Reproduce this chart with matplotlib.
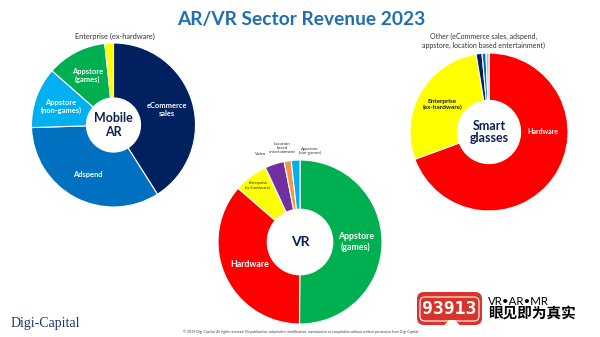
import numpy as np
import matplotlib
matplotlib.use("Agg")
import matplotlib.pyplot as plt
from matplotlib.patches import FancyBboxPatch, Polygon

W, H = 600, 337

# ── data (share of each sector's 2023 revenue, %) ─────────────────────────────
ar_labels = ["eCommerce\nsales", "Adspend", "Appstore\n(non-games)", "Appstore\n(games)", "Enterprise (ex-hardware)"]
ar_values = [41.0, 33.5, 12.0, 11.8, 1.7]
ar_colors = ["#002060", "#0070C0", "#00B0F0", "#00B050", "#FFFF00"]

vr_labels = ["Appstore\n(games)", "Hardware", "Enterprise\n(ex-hardware)", "Video",
             "Location\nbased\nentertainment", "Appstore\n(non-games)"]
vr_values = [50.0, 36.2, 6.7, 3.8, 1.4, 1.7]
vr_colors = ["#00B050", "#FF0000", "#FFFF00", "#7030A0", "#F79646", "#00B0F0"]

sg_labels = ["Hardware", "Enterprise\n(ex-hardware)", "eCommerce sales", "Adspend", "Appstore"]
sg_values = [68.9, 27.8, 1.2, 0.8, 0.6]
sg_colors = ["#FF0000", "#FFFF00", "#002060", "#0070C0", "#9DC3E6"]

SANS = ["Lato", "DejaVu Sans"]
NAVY = "#0D1F4F"


def Y(py):
    return H - py


def donut(ax, values, colors, cx, cy, r, hole):
    wedges, _ = ax.pie(values, colors=colors, startangle=90, counterclock=False,
                       radius=r, center=(cx, Y(cy)),
                       wedgeprops=dict(width=r * (1 - hole), edgecolor="white", linewidth=0.8))
    return wedges


def inner_label(ax, w, cx, cy, r, text, size, color="white", frac=0.68, ang=None):
    a = np.deg2rad((w.theta1 + w.theta2) / 2 if ang is None else ang)
    ax.text(cx + frac * r * np.cos(a), Y(cy) + frac * r * np.sin(a), text,
            ha="center", va="center", fontsize=size, fontweight="bold",
            color=color, family=SANS, linespacing=1.15)


fig = plt.figure(figsize=(W / 100, H / 100), dpi=100)
ax = fig.add_axes([0, 0, 1, 1])

# ── Mobile AR ────────────────────────────────────────────────────────────────
cx, cy, r = 113.5, 125, 82
ws = donut(ax, ar_values, ar_colors, cx, cy, r, 0.33)
for w, t in zip(ws[:4], ar_labels[:4]):
    inner_label(ax, w, cx, cy, r, t, 5.4)
ax.text(cx, Y(cy), "Mobile\nAR", ha="center", va="center", fontsize=9,
        fontweight="bold", color=NAVY, family=SANS, linespacing=1.1)
ax.text(115, Y(36), ar_labels[4], ha="center", va="center", fontsize=5.3,
        color="#333333", family=SANS)

# ── VR ───────────────────────────────────────────────────────────────────────
cx, cy, r = 300, 242, 82
ws = donut(ax, vr_values, vr_colors, cx, cy, r, 0.40)
inner_label(ax, ws[0], cx, cy, r, vr_labels[0], 6.3)
inner_label(ax, ws[1], cx, cy, r, vr_labels[1], 6.3)
ax.text(258, Y(185), vr_labels[2], ha="center", va="center", fontsize=3.2,
        color="#333333", family=SANS, linespacing=1.1)
ax.text(261, Y(154), vr_labels[3], ha="center", va="center", fontsize=3.2,
        color="#333333", family=SANS)
ax.text(282, Y(148), vr_labels[4], ha="center", va="center", fontsize=3.2,
        color="#333333", family=SANS, linespacing=1.1)
ax.text(310, Y(151), vr_labels[5], ha="center", va="center", fontsize=3.2,
        color="#333333", family=SANS, linespacing=1.1)
ax.text(cx, Y(cy), "VR", ha="center", va="center", fontsize=10,
        fontweight="bold", color=NAVY, family=SANS)

# ── Smart glasses ────────────────────────────────────────────────────────────
cx, cy, r = 489, 132, 79
ws = donut(ax, sg_values, sg_colors, cx, cy, r, 0.40)
inner_label(ax, ws[0], cx, cy, r, sg_labels[0], 5.0, ang=0)
inner_label(ax, ws[1], cx, cy, r, sg_labels[1], 4.6, color="#1A1A1A")
ax.text(cx, Y(cy), "Smart\nglasses", ha="center", va="center", fontsize=9,
        fontweight="bold", color=NAVY, family=SANS, linespacing=1.1)
ax.text(484, Y(41), "Other (eCommerce sales, adspend,\nappstore, location based entertainment)",
        ha="center", va="center", fontsize=5.0, color="#333333", family=SANS,
        linespacing=1.2)

# ── title and footer ─────────────────────────────────────────────────────────
ax.text(301, Y(19), "AR/VR Sector Revenue 2023", ha="center", va="center",
        fontsize=13.8, fontweight="bold", color="#1F6FB2", family=SANS)
ax.text(11, Y(323), "Digi-Capital", ha="left", va="center", fontsize=10,
        color="#1F3864", family=["Liberation Serif", "DejaVu Serif"])
ax.text(301, Y(331.5), "© 2019 Digi-Capital. All rights reserved. No publication, adaptation, "
        "modification, reproduction or compilation without written permission from Digi-Capital",
        ha="center", va="center", fontsize=2.6, style="italic", color="#404040", family=SANS)

# watermark
ax.add_patch(FancyBboxPatch((417, Y(325)), 65, 33, boxstyle="round,pad=0,rounding_size=7",
                            facecolor="#D9342B", edgecolor="none"))
ax.add_patch(FancyBboxPatch((420, Y(321)), 59, 24, boxstyle="round,pad=0,rounding_size=5",
                            facecolor="none", edgecolor="white", linewidth=0.8))
ax.add_patch(Polygon([(444, Y(325.5)), (460, Y(325.5)), (455, Y(320)), (449, Y(320))],
                     closed=True, facecolor="white", edgecolor="none"))
ax.text(449.5, Y(308.5), "93913", ha="center", va="center", fontsize=13, fontweight="bold",
        color="white", family=["DejaVu Sans Mono"])
ax.text(488, Y(301.5), "VR•AR•MR", ha="left", va="center", fontsize=8.3, color="black",
        family=SANS)
ax.text(488, Y(314), "眼见即为真实", ha="left", va="center", fontsize=10.5,
        fontweight="bold", color="black", family=["Noto Sans CJK SC", "DejaVu Sans"])

ax.set_xlim(0, W)
ax.set_ylim(0, H)
ax.set_aspect("equal")
ax.axis("off")
fig.savefig("out.png", dpi=100, facecolor="white")
